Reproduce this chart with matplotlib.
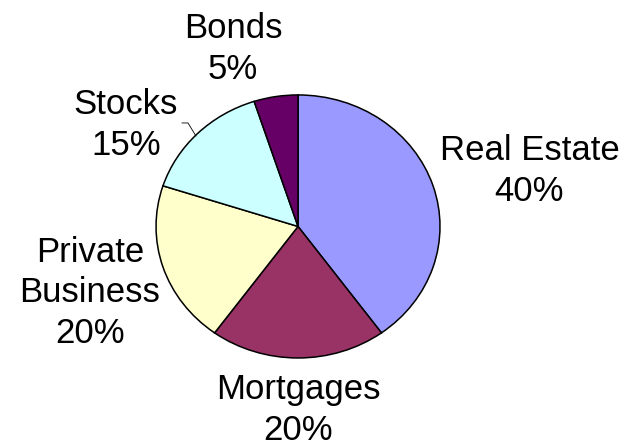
import matplotlib.pyplot as plt

categories = ["Real Estate", "Mortgages", "Private\nBusiness", "Stocks", "Bonds"]
shares = [40, 20, 20, 15, 5]
colors = ["#9999FF", "#993366", "#FFFFCC", "#CCFFFF", "#660066"]

# label centres (data units, pie radius = 1)
label_pos = [(1.63, 0.42), (0.0, -1.395), (-1.465, -0.505), (-1.213, 0.772), (-0.458, 1.35)]

plt.rcParams['font.family'] = ['Liberation Sans', 'DejaVu Sans']

fig = plt.figure(figsize=(6.26, 4.47), dpi=100)
ax = fig.add_axes([0, 0, 1, 1])

wedges, _ = ax.pie(shares, colors=colors, startangle=90, counterclock=False,
                   wedgeprops=dict(edgecolor="black", linewidth=1.1))

for name, val, (x, y) in zip(categories, shares, label_pos):
    ax.text(x, y, f"{name}\n{val}%", ha="center", va="center",
            fontsize=25, linespacing=1.3, multialignment="center")

# leader line for Stocks
ax.plot([-0.817, -0.775, -0.719], [0.787, 0.787, 0.688], color="black", lw=0.6)

ax.set_aspect("auto")
ax.set_xlim(-2.099, 2.310)
ax.set_ylim(-1.677, 1.722)
ax.axis("off")

fig.savefig("out.png", dpi=100)
